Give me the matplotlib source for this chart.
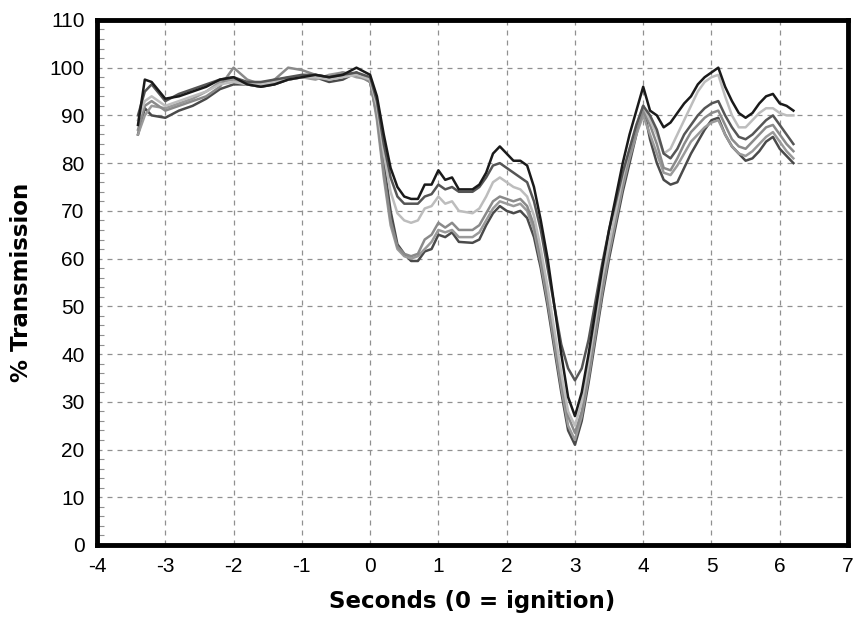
import numpy as np
import matplotlib.pyplot as plt
from matplotlib.ticker import MultipleLocator

plt.rcParams['font.family'] = ['Liberation Sans', 'DejaVu Sans']
plt.rcParams['axes.unicode_minus'] = False

# time axis, seconds relative to ignition
t = [-3.4, -3.3, -3.2, -3.0, -2.8, -2.6, -2.4, -2.2, -2.0, -1.8, -1.6, -1.4, -1.2, -1.0,
     -0.8, -0.6, -0.4, -0.2, 0.0, 0.1, 0.2, 0.3, 0.4, 0.5, 0.6, 0.7, 0.8, 0.9, 1.0, 1.1,
     1.2, 1.3, 1.5, 1.6, 1.7, 1.8, 1.9, 2.0, 2.1, 2.2, 2.3, 2.4, 2.5, 2.6, 2.7, 2.8, 2.9,
     3.0, 3.1, 3.2, 3.3, 3.4, 3.5, 3.6, 3.7, 3.8, 3.9, 4.0, 4.1, 4.2, 4.3, 4.4, 4.5, 4.6,
     4.7, 4.8, 4.9, 5.0, 5.1, 5.2, 5.3, 5.4, 5.5, 5.6, 5.7, 5.8, 5.9, 6.0, 6.1, 6.2]

s_a = [88, 97.5, 97, 93.5, 94, 95, 96, 97.5, 98, 96.5, 96, 96.5, 97.5, 98,
       98.5, 98, 98.5, 100, 98.5, 94, 86, 79, 75, 73, 72.5, 72.5, 75.5, 75.5, 78.5, 76.5,
       77, 74.5, 74.5, 75.5, 78, 82, 83.5, 82, 80.5, 80.5, 79.5, 75, 68, 60, 50, 40, 31,
       27, 32, 40, 49, 58, 66, 73, 80, 86, 91, 96, 91, 90, 87.5, 88.5, 90.5, 92.5,
       94, 96.5, 98, 99, 100, 96, 93, 90.5, 89.5, 90.5, 92.5, 94, 94.5, 92.5, 92, 91]

s_b = [90, 95, 96.5, 93, 94.5, 95.5, 96.5, 97.5, 98, 97, 97, 97.5, 98, 98.5,
       98.5, 98, 98.5, 99, 98, 93, 84, 77, 73, 71.5, 71.5, 71.5, 73, 73.5, 75.5, 74.5,
       75, 74, 74, 75, 77, 79.5, 80, 79, 78, 77, 76, 72, 66, 58, 50, 42, 37,
       34.5, 37, 43, 51, 59, 66, 72, 78, 83, 88, 92, 90, 87, 82, 81, 83, 86,
       88, 90, 91.5, 92.5, 93, 90, 87.5, 85.5, 85, 86, 87.5, 89, 90, 88, 86, 84]

s_c = [89, 93, 94, 92, 93, 94, 95, 96.5, 97, 96.5, 96.5, 97, 97.5, 98,
       98, 97.5, 98, 98.5, 97.5, 92, 82, 74, 69.5, 68, 67.5, 68, 70.5, 71, 73, 71.5,
       72, 70, 69.5, 70.5, 73, 76, 77, 76, 75, 74.5, 73, 69, 62, 54, 45, 36, 28,
       25, 30, 38, 47, 56, 63, 70, 77, 83, 88, 92, 89, 86, 82, 83, 86, 89,
       92, 95, 97, 98, 98.5, 94, 90, 87.5, 87.5, 89, 90.5, 91.5, 91.5, 90.5, 90, 90]

s_d = [87, 92, 93, 91, 92, 93, 94, 96, 100, 97.5, 96.5, 97.5, 100, 99.5,
       98.5, 98, 99, 98.5, 97, 90, 78, 68, 62.5, 61, 60.5, 61, 64, 65, 67.5, 66.5,
       67.5, 66, 66, 67, 69.5, 72, 73, 72.5, 72, 72.5, 71, 67, 60, 52, 43, 34, 27,
       23.5, 28, 36, 45, 54, 62, 69, 76, 82, 87, 91, 88, 84, 79, 78.5, 81, 84,
       86.5, 88, 89.5, 90.5, 91, 88, 85, 83.5, 83, 84.5, 86, 87.5, 88, 86, 84, 82.5]

s_e = [86, 90, 92, 91.5, 92.5, 93.5, 95, 97, 97.5, 96.5, 96, 97, 98, 98,
       97.5, 98.5, 99, 98, 97.5, 89, 77, 67, 62, 60.5, 60, 60.5, 62, 63.5, 66, 65.5,
       66, 64.5, 64.5, 65.5, 68, 70.5, 72, 71.5, 71, 71.5, 70, 66, 59, 51, 42, 33, 25,
       22, 27, 35, 44, 53, 61, 68, 75, 81, 86, 90, 86, 82, 78, 77.5, 79.5, 82,
       84.5, 86, 87.5, 88.5, 89, 86, 83.5, 82, 81.5, 82.5, 84, 85.5, 86.5, 84.5, 82.5, 81]

s_f = [86, 91.5, 90, 89.5, 91, 92, 93.5, 95.5, 96.5, 96.5, 96, 96.5, 97.5, 98,
       98, 97, 97.5, 99, 97, 90, 80, 70, 63, 61, 59.5, 59.5, 61.5, 62, 65, 64.5,
       65.5, 63.5, 63.3, 64, 67, 69.5, 71, 70, 69.5, 70, 68.5, 64.5, 58, 50, 41, 32, 24,
       21, 26, 34, 43, 52, 60, 67, 74, 80, 86, 92, 85, 80, 76.5, 75.5, 76, 79,
       82, 84.5, 87, 89, 89.5, 86, 83.5, 82, 80.5, 81, 82.5, 84.5, 85.5, 83, 81.5, 80]

series = [s_f, s_e, s_d, s_c, s_b, s_a]
colors = ['#4a4a4a', '#9a9a9a', '#8a8a8a', '#bdbdbd', '#555555', '#1a1a1a']

fig = plt.figure(figsize=(8.54, 6.17), dpi=100)
ax = fig.add_axes([0.1136, 0.1167, 0.8794, 0.851])

for s, c in zip(series, colors):
    ax.plot(t, s, color=c, lw=1.8)

ax.set_xlim(-4, 7)
ax.set_ylim(0, 110)
ax.xaxis.set_major_locator(MultipleLocator(1))
ax.yaxis.set_major_locator(MultipleLocator(10))
ax.yaxis.set_minor_locator(MultipleLocator(2))
ax.grid(True, which='major', color='#909090', linestyle=(0, (4, 4)), lw=0.9)

ax.tick_params(which='major', length=0, labelsize=15, pad=9)
ax.tick_params(axis='y', which='minor', direction='in', length=5, color='#909090', width=0.8)

for sp in ax.spines.values():
    sp.set_linewidth(3.5)
    sp.set_color('black')

ax.set_xlabel('Seconds (0 = ignition)', fontsize=16.5, fontweight='bold',
              family='DejaVu Sans', labelpad=10)
ax.set_ylabel('% Transmission', fontsize=16.5, fontweight='bold',
              family='DejaVu Sans', labelpad=12)

fig.savefig('out.png', dpi=100)
